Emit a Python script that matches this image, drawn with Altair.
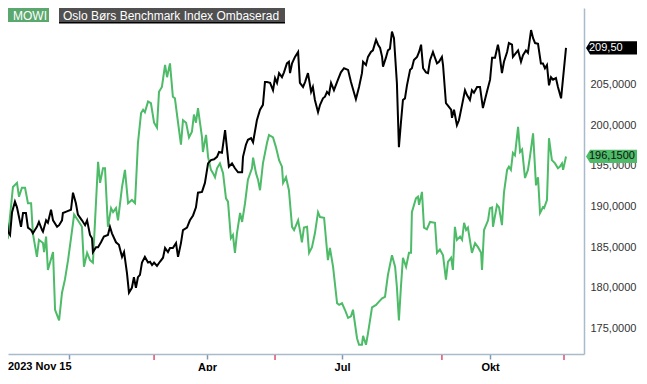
import altair as alt
import pandas as pd

FONT = "Liberation Sans"
GREEN = "#4dbb68"
AXIS_COL = "#a9bacb"
TICK_COL = "#7f98b0"
RED_TICK = "#e0506a"

# ---------------- data (trading-day position, closing value) ----------------
mowi_day = [-1.8, 0.4, 1.8, 4.0, 5.8, 6.7, 8.0, 9.4, 10.7, 12.1,
            12.9, 14.7, 15.6, 17.4, 17.9, 18.8, 19.6, 21.9, 22.8, 24.6,
            25.9, 27.2, 28.6, 30.4, 31.3, 33.0, 34.8, 35.7, 37.1, 38.4,
            39.7, 42.0, 42.9, 44.2, 45.1, 46.4, 47.8, 48.7, 50.0, 50.9,
            52.7, 54.0, 55.4, 57.1, 58.5, 59.8, 61.2, 62.1, 62.9, 64.3,
            65.6, 67.0, 68.3, 69.2, 70.5, 71.9, 72.8, 74.1, 75.4, 76.3,
            77.7, 79.0, 79.9, 81.3, 82.6, 83.9, 84.8, 85.7, 86.6, 88.4,
            88.8, 90.2, 91.1, 92.4, 93.3, 94.2, 95.1, 96.4, 97.8, 99.1,
            100.0, 101.3, 102.2, 103.1, 104.0, 105.4, 106.3, 107.6, 108.9, 110.7,
            111.2, 112.5, 113.4, 114.3, 115.6, 117.4, 118.3, 120.1, 121.4, 122.8,
            124.1, 124.6, 125.9, 127.2, 128.6, 129.5, 131.3, 132.1, 133.0, 133.9,
            135.3, 136.2, 137.5, 138.8, 140.2, 141.1, 142.9, 144.6, 145.5, 146.9,
            148.7, 149.6, 150.9, 152.2, 153.6, 154.9, 155.8, 157.6, 158.5, 159.8,
            160.3, 161.6, 162.5, 164.3, 166.1, 167.4, 168.8, 170.1, 171.4, 173.2,
            174.6, 175.4, 176.3, 177.2, 178.1, 179.5, 180.8, 181.7, 182.1, 183.9,
            184.8, 185.3, 186.6, 187.5, 188.8, 190.2, 192.4, 193.3, 194.6, 196.0,
            197.3, 198.2, 199.6, 200.4, 201.3, 202.2, 203.6, 204.5, 205.4, 206.3,
            207.1, 208.9, 210.3, 211.6, 213.0, 213.4, 214.3, 216.1, 216.9, 217.9,
            218.3, 220.1, 221.0, 222.3, 223.2, 224.6, 225.4, 226.3, 227.2, 228.1,
            229.5, 230.4, 231.3, 232.6, 233.9, 234.8, 236.2, 237.5, 238.4, 239.3,
            240.6, 241.1, 242.4, 243.3, 244.6, 246.0, 247.3, 248.2, 249.1, 249.6,
            250.9]
mowi_val = [186.9, 186.9, 186.3, 192.4, 192.9, 191.2, 192.3, 192.3, 190.4, 190.4,
            186.7, 183.8, 185.9, 185.5, 184.4, 186.3, 182.2, 184.4, 177.3, 176.0,
            179.4, 181.0, 183.4, 187.1, 189.0, 188.3, 187.5, 182.6, 184.3, 183.4,
            183.1, 195.5, 192.9, 194.7, 194.7, 187.5, 189.8, 189.3, 189.8, 188.3,
            192.4, 194.5, 190.4, 190.8, 190.4, 197.8, 201.5, 201.9, 201.6, 202.9,
            202.7, 200.3, 199.7, 204.1, 204.7, 207.4, 205.9, 207.6, 203.5, 203.3,
            200.3, 197.6, 200.6, 200.3, 198.5, 199.2, 201.3, 200.3, 202.1, 198.5,
            196.7, 198.8, 196.1, 194.5, 194.1, 193.6, 194.7, 195.3, 194.1, 191.0,
            190.6, 186.1, 186.5, 184.3, 186.7, 189.2, 188.1, 190.4, 193.3, 194.7,
            196.0, 194.1, 193.3, 192.0, 195.3, 197.8, 198.8, 198.5, 197.3, 195.7,
            194.9, 192.9, 193.6, 192.0, 187.5, 187.1, 188.3, 187.1, 185.6, 187.4,
            187.5, 184.3, 185.0, 186.7, 189.3, 188.7, 188.6, 183.4, 184.9, 182.6,
            178.1, 177.9, 178.1, 177.3, 176.3, 176.5, 177.3, 173.8, 173.0, 173.0,
            174.1, 173.0, 174.4, 177.6, 177.9, 178.3, 178.7, 178.9, 181.6, 184.0,
            182.6, 180.1, 176.0, 180.1, 183.7, 182.6, 184.3, 184.3, 189.3, 191.0,
            191.2, 190.2, 191.8, 187.4, 187.2, 188.1, 188.0, 184.3, 184.7, 184.0,
            181.0, 183.2, 183.7, 182.2, 187.5, 185.9, 186.3, 185.9, 188.0, 187.1,
            187.4, 184.3, 185.5, 185.0, 184.3, 182.2, 187.1, 188.3, 189.8, 189.9,
            187.5, 190.2, 189.9, 187.7, 191.7, 194.5, 194.9, 194.5, 196.6, 196.3,
            199.8, 196.7, 197.0, 193.5, 194.5, 196.1, 199.0, 192.6, 193.6, 189.2,
            189.9, 189.8, 190.8, 198.4, 195.7, 195.3, 194.7, 194.9, 195.3, 194.5,
            196.15]

bench_day = [-1.8, -0.9, -0.4, 0.9, 1.8, 2.7, 3.6, 4.9, 5.8, 6.7,
             7.6, 8.5, 9.8, 10.7, 12.1, 12.9, 13.8, 14.7, 15.6, 17.0,
             17.4, 18.8, 19.6, 21.0, 21.9, 23.7, 24.6, 25.9, 26.3, 28.1,
             29.9, 30.8, 32.1, 33.0, 34.8, 36.2, 37.1, 38.4, 39.3, 39.7,
             41.1, 42.0, 43.3, 44.6, 46.4, 47.3, 48.2, 50.0, 51.3, 52.7,
             53.6, 54.9, 55.8, 57.1, 58.0, 58.9, 59.8, 60.7, 61.6, 62.9,
             64.3, 65.2, 66.1, 67.0, 68.3, 69.6, 71.0, 71.9, 73.2, 74.1,
             75.4, 76.8, 77.7, 79.0, 79.9, 81.7, 83.0, 84.4, 85.7, 86.6,
             88.4, 89.7, 91.1, 92.4, 93.8, 95.1, 96.0, 97.3, 98.7, 99.6,
             100.4, 101.8, 103.1, 104.5, 106.3, 106.7, 108.0, 108.9, 110.3, 111.2,
             112.9, 114.3, 115.6, 116.5, 117.4, 118.8, 120.1, 121.0, 121.9, 122.8,
             124.1, 125.0, 126.3, 127.2, 127.7, 128.6, 129.9, 131.3, 132.1, 133.5,
             134.4, 135.7, 136.2, 137.1, 137.9, 138.8, 140.2, 141.1, 142.4, 143.3,
             144.2, 145.1, 146.0, 147.3, 149.1, 150.4, 151.8, 153.6, 154.9, 157.1,
             158.5, 159.8, 160.3, 161.6, 162.5, 163.8, 164.7, 166.1, 167.0, 167.9,
             168.8, 169.2, 170.5, 171.4, 172.3, 173.2, 174.1, 175.4, 176.3, 177.2,
             178.1, 179.0, 179.9, 181.3, 182.1, 183.0, 184.4, 185.3, 186.2, 187.1,
             188.4, 189.3, 190.2, 191.5, 192.0, 193.3, 194.2, 195.5, 196.0, 197.3,
             198.2, 199.6, 200.0, 200.9, 202.2, 203.1, 204.5, 205.8, 206.7, 208.0,
             208.9, 209.8, 211.2, 212.5, 213.8, 215.6, 217.0, 217.9, 219.2, 220.5,
             221.0, 222.3, 223.2, 224.6, 225.4, 226.8, 227.2, 228.6, 229.5, 230.8,
             231.7, 233.0, 233.9, 235.3, 236.2, 237.1, 238.4, 239.7, 240.6, 241.5,
             242.4, 243.3, 244.2, 245.1, 246.4, 247.3, 248.7, 250.9]
bench_val = [186.1, 188.7, 187.1, 189.3, 186.9, 186.5, 189.3, 190.6, 189.9, 188.7,
             187.5, 189.2, 189.2, 187.4, 187.1, 186.7, 187.1, 187.5, 188.1, 187.1,
             186.9, 188.3, 188.0, 189.6, 188.3, 187.5, 187.7, 188.3, 189.2, 189.4,
             189.6, 191.7, 190.4, 189.0, 188.3, 187.7, 188.3, 186.5, 186.1, 184.4,
             185.0, 185.0, 185.6, 186.3, 186.5, 187.5, 186.7, 185.6, 185.3, 183.8,
             184.4, 181.8, 179.4, 180.0, 181.3, 180.0, 181.3, 181.6, 183.1, 183.8,
             183.1, 183.2, 182.8, 183.1, 182.7, 183.2, 183.7, 184.9, 184.4, 184.9,
             184.9, 185.5, 183.8, 185.5, 187.1, 187.4, 188.3, 188.9, 189.9, 191.7,
             191.8, 192.9, 195.3, 195.7, 195.8, 196.1, 196.7, 196.6, 199.4, 197.0,
             194.9, 195.3, 194.7, 194.2, 194.2, 196.1, 197.6, 198.2, 198.4, 197.9,
             200.6, 201.9, 202.5, 205.3, 205.3, 205.2, 204.3, 205.8, 205.2, 206.4,
             205.9, 206.5, 207.6, 207.8, 206.4, 207.6, 208.4, 209.0, 205.2, 204.7,
             205.3, 206.4, 205.6, 204.1, 204.7, 203.1, 201.6, 202.5, 203.3, 203.5,
             204.1, 203.8, 205.2, 204.3, 205.6, 206.5, 207.0, 206.8, 205.3, 203.2,
             204.7, 206.4, 207.8, 207.4, 208.4, 209.0, 209.2, 210.5, 209.9, 209.5,
             208.4, 207.2, 208.3, 209.2, 209.4, 211.5, 210.7, 205.2, 197.3, 200.3,
             203.1, 203.3, 204.9, 206.8, 207.0, 208.0, 208.4, 209.0, 209.9, 207.0,
             206.5, 206.4, 208.0, 209.0, 208.6, 207.6, 207.8, 208.4, 207.4, 202.7,
             202.4, 201.9, 200.9, 201.9, 200.0, 200.6, 202.5, 204.3, 203.7, 203.1,
             204.3, 204.0, 204.7, 204.7, 202.1, 204.1, 205.6, 208.3, 208.3, 209.9,
             209.2, 206.4, 207.8, 209.0, 210.1, 209.9, 208.4, 208.9, 209.2, 207.8,
             208.6, 209.2, 208.9, 211.7, 210.7, 210.1, 210.0, 207.6, 207.6, 207.0,
             207.4, 204.9, 205.9, 205.6, 205.8, 204.7, 203.3, 209.5]

series_names = ["MOWI", "Oslo Børs Benchmark Index Ombaserad"]
month_ticks = [29.0, 90.6, 150.9, 217.0]
month_labels = ["", "Apr", "Jul", "Okt"]
event_ticks = [0.0, 67.0, 121.0, 195.5, 250.0]
first_label = "2023 Nov 15"
y_ticks = [175, 180, 185, 190, 195, 200, 205]
last_labels = ["209,50", "196,1500"]
last_values = [209.50, 196.15]

# ---------------- layout ----------------
W, H = 576, 346
X_DOMAIN = [1.79, 258.93]
Y_DOMAIN = [171.86, 214.41]


def month_expr():
    parts = []
    for i in range(len(month_ticks) - 1):
        mid = (month_ticks[i] + month_ticks[i + 1]) / 2
        parts.append(f"datum.value < {mid} ? '{month_labels[i]}' : ")
    return "".join(parts) + f"'{month_labels[-1]}'"


X_ENC = alt.X(
    "day:Q",
    scale=alt.Scale(domain=X_DOMAIN, nice=False, zero=False),
    axis=alt.Axis(values=month_ticks, labelExpr=month_expr(), title=None, grid=False,
                  orient="bottom", domainColor=AXIS_COL, domainWidth=1.5,
                  tickColor=TICK_COL, tickSize=5, tickWidth=1.5,
                  labelFont=FONT, labelFontSize=11, labelFontWeight="bold",
                  labelColor="#000000", labelPadding=2, labelFlush=False,
                  labelOverlap=False),
)
Y_ENC = alt.Y(
    "value:Q",
    scale=alt.Scale(domain=Y_DOMAIN, nice=False, zero=False),
    axis=alt.Axis(values=y_ticks,
                  labelExpr="replace(format(datum.value, '.4f'), '.', ',')",
                  title=None, grid=False, orient="right", ticks=False,
                  domainColor=AXIS_COL, domainWidth=1.5,
                  labelFont=FONT, labelFontSize=11, labelColor="#333333",
                  labelPadding=6),
)

mowi_df = pd.DataFrame({"day": mowi_day, "value": mowi_val})
bench_df = pd.DataFrame({"day": bench_day, "value": bench_val})

green_line = alt.Chart(mowi_df).mark_line(color=GREEN, strokeWidth=2, clip=True).encode(
    x=X_ENC, y=Y_ENC)
black_line = alt.Chart(bench_df).mark_line(color="#000000", strokeWidth=2, clip=True).encode(
    x=X_ENC, y=Y_ENC)

red_ticks = alt.Chart(pd.DataFrame({"day": event_ticks})).mark_rule(
    color=RED_TICK, strokeWidth=1.5).encode(
    x=X_ENC, y=alt.value(H + 1), y2=alt.value(H + 6))

first_lbl = alt.Chart(pd.DataFrame({"t": [first_label]})).mark_text(
    align="left", baseline="top", font=FONT, fontSize=11, fontWeight="bold",
    color="#000000").encode(x=alt.value(0), y=alt.value(H + 7), text="t:N")

one = pd.DataFrame({"k": [0]})
leg_green = alt.Chart(one).mark_rect(color="#5ba86e").encode(
    x=alt.value(0), x2=alt.value(41), y=alt.value(0), y2=alt.value(14))
leg_green_txt = alt.Chart(pd.DataFrame({"t": [series_names[0]]})).mark_text(
    align="left", baseline="middle", font=FONT, fontSize=12, color="#ffffff").encode(
    x=alt.value(5), y=alt.value(7.5), text="t:N")
leg_dark_edge = alt.Chart(one).mark_rect(color="#000000").encode(
    x=alt.value(51), x2=alt.value(277), y=alt.value(0), y2=alt.value(15.5))
leg_dark = alt.Chart(one).mark_rect(color="#505050").encode(
    x=alt.value(51), x2=alt.value(277), y=alt.value(0), y2=alt.value(14))
leg_dark_txt = alt.Chart(pd.DataFrame({"t": [series_names[1]]})).mark_text(
    align="left", baseline="middle", font=FONT, fontSize=12, color="#ffffff").encode(
    x=alt.value(55), y=alt.value(7.5), text="t:N")

box_df = pd.DataFrame({
    "value": last_values,
    "label": last_labels,
    "fill": ["#000000", GREEN],
    "ink": ["#ffffff", "#111111"],
})
ARROW = "M -1 0 L -0.84 -0.26 L 1 -0.26 L 1 0.26 L -0.84 0.26 Z"
boxes = alt.Chart(box_df).mark_point(shape=ARROW, size=51 * 51, filled=True,
                                     opacity=1, strokeWidth=0).encode(
    x=alt.value(W + 27.5), y=Y_ENC, color=alt.Color("fill:N", scale=None))
box_txt = alt.Chart(box_df).mark_text(align="left", baseline="middle", font=FONT,
                                      fontSize=11).encode(
    x=alt.value(W + 5), y=Y_ENC, text="label:N", color=alt.Color("ink:N", scale=None))

chart = alt.layer(
    green_line, black_line, red_ticks, first_lbl,
    leg_green, leg_green_txt, leg_dark_edge, leg_dark, leg_dark_txt,
    boxes, box_txt,
).properties(
    width=W, height=H, background="white",
    autosize=alt.AutoSizeParams(type="none"),
    padding={"left": 0, "top": 0, "right": 55, "bottom": 17},
).configure_view(stroke=None)

chart.save("out.html", embed_options={"renderer": "svg", "actions": False})
